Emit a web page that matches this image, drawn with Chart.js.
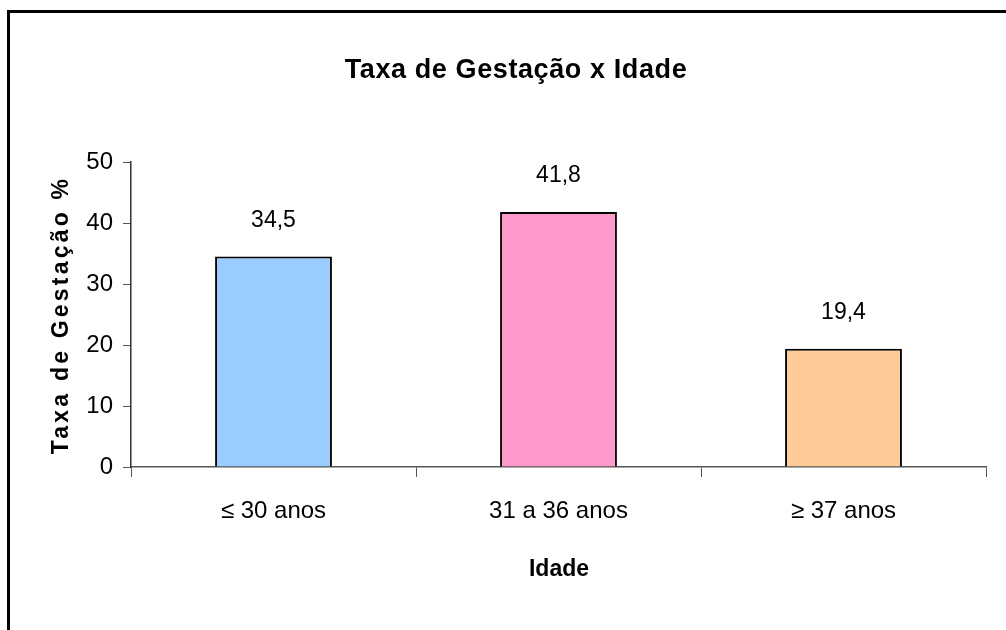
<!DOCTYPE html>
<html>
<head>
<meta charset="utf-8">
<script src="https://cdn.jsdelivr.net/npm/chart.js@4.4.0/dist/chart.umd.min.js"></script>
<style>
  html, body { margin: 0; padding: 0; background: #fff; overflow: hidden; }
  #wrap { position: absolute; left: 0; top: 0; width: 1006px; height: 630px; }
  #frame { position: absolute; left: 7px; top: 10px; width: 1010px; height: 640px; border: 3px solid #000; box-sizing: border-box; pointer-events: none; }
</style>
</head>
<body>
<div id="wrap">
  <canvas id="myChart" width="1006" height="630"></canvas>
  <div id="frame"></div>
</div>
<script>
var categories = ["≤ 30 anos", "31 a 36 anos", "≥ 37 anos"];
var taxaValues = [34.5, 41.8, 19.4];
var barColors = ["#99CCFF", "#FF99CC", "#FFCC99"];
var yTicks = [0, 10, 20, 30, 40, 50];

var FONT = "'Liberation Sans', Arial, sans-serif";

// titles and value labels
var textPlugin = {
    id: "texts",
    afterDatasetsDraw: function (chart) {
        var ctx = chart.ctx;
        ctx.save();
        ctx.fillStyle = "#000";
        ctx.textAlign = "center";
        ctx.textBaseline = "middle";

        // value labels
        ctx.font = "23px " + FONT;
        var meta = chart.getDatasetMeta(0);
        meta.data.forEach(function (bar, i) {
            ctx.fillText(String(taxaValues[i]).replace(".", ","), bar.x, bar.y - 36);
        });

        // main title
        ctx.font = "bold 27px " + FONT;
        if ("letterSpacing" in ctx) ctx.letterSpacing = "0.6px";
        ctx.fillText("Taxa de Gestação x Idade", 516, 71);

        // x title
        if ("letterSpacing" in ctx) ctx.letterSpacing = "0px";
        ctx.font = "bold 23px " + FONT;
        ctx.fillText("Idade", 559, 570);

        // y title
        ctx.translate(62, 315);
        ctx.rotate(-Math.PI / 2);
        ctx.font = "bold 23px " + FONT;
        if ("letterSpacing" in ctx) ctx.letterSpacing = "3.2px";
        ctx.fillText("Taxa de Gestação %", 0, 0);
        ctx.restore();
    }
};

new Chart("myChart", {
    type: "bar",
    data: {
        labels: categories,
        datasets: [{
            data: taxaValues,
            backgroundColor: barColors,
            borderColor: "#000",
            borderWidth: 2,
            barPercentage: 0.41,
            categoryPercentage: 1.0
        }]
    },
    options: {
        responsive: false,
        animation: false,
        layout: { padding: { left: 0, top: 162, right: 20, bottom: 0 } },
        plugins: {
            legend: { display: false },
            title: { display: false },
            tooltip: { enabled: false }
        },
        scales: {
            x: {
                afterFit: function (s) { s.height = 163; },
                grid: {
                    offset: true,
                    drawOnChartArea: false,
                    tickLength: 10,
                    color: "#555"
                },
                border: { color: "#555", width: 1.5 },
                ticks: {
                    color: "#000",
                    padding: 20,
                    font: { family: FONT, size: 24 }
                }
            },
            y: {
                min: 0,
                max: 50,
                afterFit: function (s) { s.width = 131; },
                afterBuildTicks: function (s) {
                    s.ticks = yTicks.map(function (v) { return { value: v }; });
                },
                grid: {
                    drawOnChartArea: false,
                    tickLength: 8,
                    color: "#555"
                },
                border: { color: "#333", width: 1.5 },
                ticks: {
                    color: "#000",
                    padding: 10,
                    font: { family: FONT, size: 24 }
                }
            }
        }
    },
    plugins: [textPlugin]
});
</script>
</body>
</html>
